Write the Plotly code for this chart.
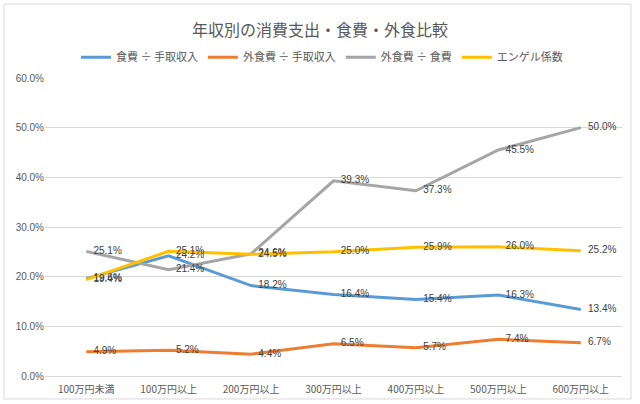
import plotly.graph_objects as go

# categories and series (percent)
categories = ["100万円未満", "100万円以上", "200万円以上", "300万円以上", "400万円以上", "500万円以上", "600万円以上"]
food_income = [19.6, 24.2, 18.2, 16.4, 15.4, 16.3, 13.4]
eatout_income = [4.9, 5.2, 4.4, 6.5, 5.7, 7.4, 6.7]
eatout_food = [25.1, 21.4, 24.6, 39.3, 37.3, 45.5, 50.0]
engel = [19.4, 25.1, 24.5, 25.0, 25.9, 26.0, 25.2]

series = [
    ("食費 ÷ 手取収入", food_income, "#5B9BD5"),
    ("外食費 ÷ 手取収入", eatout_income, "#ED7D31"),
    ("外食費 ÷ 食費", eatout_food, "#A5A5A5"),
    ("エンゲル係数", engel, "#FFC000"),
]

font_jp = "Noto Sans CJK JP"

fig = go.Figure()
for name, vals, color in series:
    fig.add_trace(go.Scatter(
        x=categories, y=vals, name=name,
        mode="lines+markers+text",
        line=dict(color=color, width=3),
        # invisible markers only to push labels a little right of the points
        marker=dict(size=10, color="rgba(0,0,0,0)", line=dict(width=0)),
        text=[f"{v:.1f}%" for v in vals],
        textposition="middle right",
        textfont=dict(color="#404040", size=10, family="Liberation Sans"),
        cliponaxis=False,
    ))

fig.update_layout(
    width=640, height=404,
    margin=dict(l=45, r=18, t=78, b=28, autoexpand=False),
    paper_bgcolor="white", plot_bgcolor="white",
    font=dict(family=font_jp, color="#595959"),
    title=dict(text="年収別の消費支出・食費・外食比較", x=0.5, xanchor="center",
               y=0.925, yanchor="middle", font=dict(size=16, color="#595959")),
    legend=dict(orientation="h", x=0.48, xanchor="center", y=1.07, yanchor="middle",
                font=dict(size=11, color="#595959"), itemwidth=30, bgcolor="rgba(0,0,0,0)"),
    showlegend=True,
)
fig.update_xaxes(range=[-0.5, 6.5], autorange=False, showgrid=False, showline=True,
                 linecolor="#D9D9D9", linewidth=1,
                 tickfont=dict(size=10, color="#595959"), ticks="", ticklabelstandoff=4)
fig.update_yaxes(range=[0, 60], autorange=False, dtick=10, tickformat=".1f", ticksuffix="%",
                 showgrid=True, gridcolor="#D9D9D9", gridwidth=1, zeroline=False,
                 tickfont=dict(size=10, color="#595959", family="Liberation Sans"), ticks="")

# chart border
fig.add_shape(type="rect", xref="paper", yref="paper",
              x0=-0.071, x1=1.0156, y0=-0.077, y1=1.248,
              line=dict(color="#D9D9D9", width=1), layer="below")

fig.write_html("out.html", config={"displayModeBar": False},
               post_script="document.body.style.margin='0';")
